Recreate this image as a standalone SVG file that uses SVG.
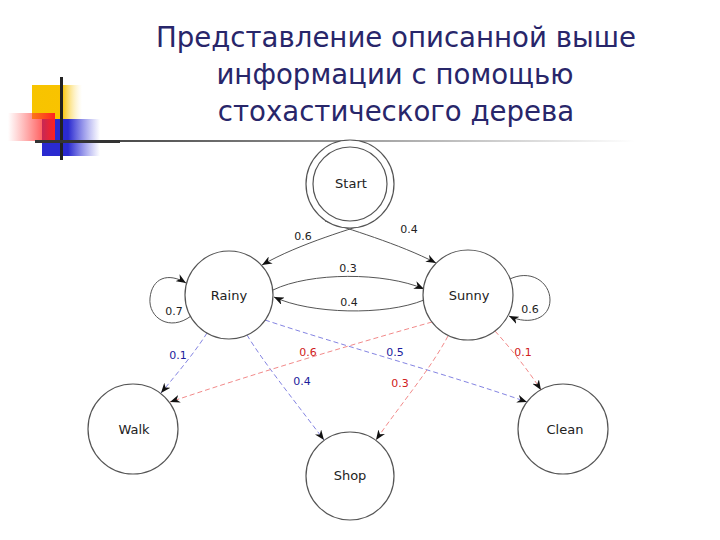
<svg xmlns="http://www.w3.org/2000/svg" width="720" height="540" viewBox="0 0 720 540">
<defs>
<style>
.title{font-family:"DejaVu Sans","Noto Sans",sans-serif;font-size:27.6px;fill:#28266a;text-anchor:middle}
.node{fill:#fff;stroke:#555;stroke-width:1.2}
.nl{font-family:"DejaVu Sans",sans-serif;font-size:13px;fill:#222;text-anchor:middle;dominant-baseline:central}
.el{font-family:"DejaVu Sans",sans-serif;font-size:11px;text-anchor:middle;dominant-baseline:central}
.solid{fill:none;stroke:#555;stroke-width:1}
.blue{fill:none;stroke:#8484e2;stroke-width:1;stroke-dasharray:5,3}
.red{fill:none;stroke:#f28a8a;stroke-width:1;stroke-dasharray:5,3}
</style>
<marker id="ah" markerWidth="10" markerHeight="8" refX="10" refY="4" orient="auto" markerUnits="userSpaceOnUse">
<path d="M0,0 L10,4 L0,8 L3,4 z" fill="#111"/>
</marker>
<linearGradient id="gy" x1="0" x2="1" y1="0" y2="0">
<stop offset="0" stop-color="#f7c400"/><stop offset="0.6" stop-color="#f9c300"/><stop offset="1" stop-color="#fde9a0" stop-opacity="0"/>
</linearGradient>
<linearGradient id="gr" x1="0" x2="1" y1="0" y2="0">
<stop offset="0" stop-color="#ff3a3a" stop-opacity="0"/><stop offset="1" stop-color="#ff2020"/>
</linearGradient>
<linearGradient id="gb" x1="0" x2="1" y1="0" y2="0">
<stop offset="0" stop-color="#2a2ad0"/><stop offset="0.45" stop-color="#2a2ad0"/><stop offset="1" stop-color="#5050e0" stop-opacity="0"/>
</linearGradient>
<linearGradient id="gl" x1="0" x2="1" y1="0" y2="0">
<stop offset="0" stop-color="#333"/><stop offset="0.2" stop-color="#555"/><stop offset="0.6" stop-color="#aaa"/><stop offset="1" stop-color="#fff"/>
</linearGradient>
</defs>
<rect width="720" height="540" fill="#fff"/>
<g id="logo">
<rect x="32" y="85" width="50" height="34" fill="url(#gy)"/>
<rect x="42" y="119" width="58" height="37" fill="url(#gb)"/>
<rect x="8" y="113" width="47" height="28" fill="url(#gr)"/>
<rect x="60" y="77" width="3" height="83" fill="#222"/>
<rect x="35" y="140" width="600" height="2" fill="url(#gl)"/>
<rect x="35" y="140" width="85" height="3" fill="#333"/>
</g>
<g id="title">
<text class="title" x="396" y="47">Представление описанной выше</text>
<text class="title" x="395" y="84">информации с помощью</text>
<text class="title" x="396" y="121">стохастического дерева</text>
</g>
<g id="connectors">
<path class="solid" d="M374,221 C355,228 300,243 262,265" marker-end="url(#ah)"/>
<path class="solid" d="M325,221 C345,228 400,244 436,263" marker-end="url(#ah)"/>
<path class="solid" d="M273,290 C310,272 385,272 424,289" marker-end="url(#ah)"/>
<path class="solid" d="M424,300 C385,316 310,314 274,297" marker-end="url(#ah)"/>
<path class="solid" d="M191,316 C170,332 148,318 150,298 C152,278 168,272 186,283" marker-end="url(#ah)"/>
<path class="solid" d="M508,280 C530,268 550,282 550,300 C550,318 530,326 509,316" marker-end="url(#ah)"/>
<path class="blue" d="M207,333 C195,352 180,370 161,393" marker-end="url(#ah)"/>
<path class="blue" d="M247,335 C262,360 290,395 324,440" marker-end="url(#ah)"/>
<path class="blue" d="M265,320 C340,345 450,375 527,402" marker-end="url(#ah)"/>
<path class="red" d="M432,322 C350,345 250,375 170,402" marker-end="url(#ah)"/>
<path class="red" d="M448,336 C430,370 400,405 376,440" marker-end="url(#ah)"/>
<path class="red" d="M495,331 C512,350 528,370 541,390" marker-end="url(#ah)"/>
<text class="el" x="303" y="236" fill="#222">0.6</text>
<text class="el" x="409" y="229" fill="#222">0.4</text>
<text class="el" x="348" y="268" fill="#222">0.3</text>
<text class="el" x="349" y="302" fill="#222">0.4</text>
<text class="el" x="174" y="311" fill="#222">0.7</text>
<text class="el" x="530" y="309" fill="#222">0.6</text>
<text class="el" x="178" y="355" fill="#1c1c9c">0.1</text>
<text class="el" x="302" y="381" fill="#1c1c9c">0.4</text>
<text class="el" x="395" y="352" fill="#1c1c9c">0.5</text>
<text class="el" x="308" y="352" fill="#d02020">0.6</text>
<text class="el" x="400" y="383" fill="#d02020">0.3</text>
<text class="el" x="523" y="352" fill="#d02020">0.1</text>
</g>
<g id="start">
<circle class="node" cx="350" cy="184" r="44"/>
<circle class="node" cx="350" cy="184" r="37"/>
<text class="nl" x="351" y="183">Start</text>
</g>
<g id="rainy">
<circle class="node" cx="229" cy="295" r="44"/>
<text class="nl" x="229" y="295">Rainy</text>
</g>
<g id="sunny">
<circle class="node" cx="468" cy="295" r="45"/>
<text class="nl" x="469" y="295">Sunny</text>
</g>
<g id="walk">
<circle class="node" cx="133" cy="429" r="45"/>
<text class="nl" x="134" y="429">Walk</text>
</g>
<g id="shop">
<circle class="node" cx="350" cy="476" r="44"/>
<text class="nl" x="350" y="475">Shop</text>
</g>
<g id="clean">
<circle class="node" cx="563" cy="429" r="45"/>
<text class="nl" x="565" y="429">Clean</text>
</g>
</svg>
